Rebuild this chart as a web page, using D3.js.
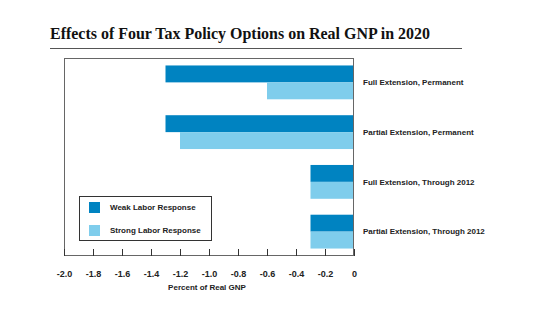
<!DOCTYPE html>
<html><head><meta charset="utf-8">
<script src="https://cdn.jsdelivr.net/npm/d3@7"></script>
<style>body{margin:0;background:#fff}svg{display:block}</style>
</head><body>
<script>
const categories = ["Full Extension, Permanent","Partial Extension, Permanent","Full Extension, Through 2012","Partial Extension, Through 2012"];
const seriesNames = ["Weak Labor Response","Strong Labor Response"];
const weakValues = [-1.30,-1.30,-0.30,-0.30];
const strongValues = [-0.60,-1.20,-0.30,-0.30];
const tickValues = [-2.0,-1.8,-1.6,-1.4,-1.2,-1.0,-0.8,-0.6,-0.4,-0.2,0];
const tickLabels = ["-2.0","-1.8","-1.6","-1.4","-1.2","-1.0","-0.8","-0.6","-0.4","-0.2","0"];
const colors = ["#0083C1","#7FCDEC"];

const W=560,H=325;
const svg=d3.select("body").append("svg").attr("width",W).attr("height",H);
const L=64,R=354,T=58,B=256;
const sans="'Liberation Sans', Arial, sans-serif";

svg.append("text").attr("x",50).attr("y",39)
  .attr("font-family","'Liberation Serif','DejaVu Serif',serif").attr("font-weight","bold")
  .attr("font-size",17).attr("fill","#111")
  .attr("textLength",380).attr("lengthAdjust","spacingAndGlyphs")
  .text("Effects of Four Tax Policy Options on Real GNP in 2020");
svg.append("line").attr("x1",50).attr("x2",462).attr("y1",48.5).attr("y2",48.5)
  .attr("stroke","#555").attr("stroke-width",1);

const x=d3.scaleLinear().domain([-2,0]).range([L,R]);
const y=d3.scaleBand().domain(categories).range([T,B]).paddingInner(0.32).paddingOuter(0.15);
const y1=d3.scaleBand().domain(seriesNames).range([0,y.bandwidth()]);

const data=categories.map((c,i)=>({c,vals:[weakValues[i],strongValues[i]]}));
const g=svg.append("g");
data.forEach(d=>{
  d.vals.forEach((v,j)=>{
    g.append("rect").attr("x",x(v)).attr("width",x(0)-x(v))
      .attr("y",y(d.c)+y1(seriesNames[j])).attr("height",y1.bandwidth())
      .attr("fill",colors[j]);
  });
});

// frame
svg.append("rect").attr("x",L+0.5).attr("y",T+0.5).attr("width",R-L-1).attr("height",B-T-1)
  .attr("fill","none").attr("stroke","#666").attr("stroke-width",1);

// axis
const ax=svg.append("g").attr("transform",`translate(0,${B})`)
  .call(d3.axisBottom(x).tickValues(tickValues).tickSizeInner(-7).tickSizeOuter(0)
    .tickPadding(15).tickFormat((d,i)=>tickLabels[i]));
ax.select(".domain").remove();
ax.selectAll("line").attr("stroke","#333");
ax.selectAll("text").attr("font-family",sans).attr("font-weight","bold").attr("font-size",9).attr("fill","#222");

svg.append("text").attr("x",207).attr("y",290).attr("text-anchor","middle")
  .attr("font-family",sans).attr("font-weight","bold").attr("font-size",8).attr("fill","#222")
  .text("Percent of Real GNP");

// category labels
categories.forEach(c=>{
  svg.append("text").attr("x",363).attr("y",y(c)+y.bandwidth()/2).attr("dy","0.35em")
    .attr("font-family",sans).attr("font-weight","bold").attr("font-size",8).attr("fill","#222")
    .text(c);
});

// legend
svg.append("rect").attr("x",79.5).attr("y",196.5).attr("width",132).attr("height",44)
  .attr("fill","#fff").attr("stroke","#333").attr("stroke-width",1);
seriesNames.forEach((s,i)=>{
  svg.append("rect").attr("x",89).attr("y",202+i*23).attr("width",11).attr("height",11).attr("fill",colors[i]);
  svg.append("text").attr("x",110).attr("y",207.5+i*23).attr("dy","0.35em")
    .attr("font-family",sans).attr("font-weight","bold").attr("font-size",8).attr("fill","#222")
    .text(s);
});
</script>
</body></html>
